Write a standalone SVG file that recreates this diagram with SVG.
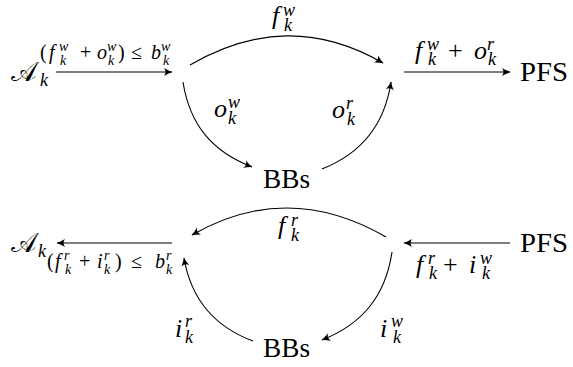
<svg xmlns="http://www.w3.org/2000/svg" width="573" height="367" viewBox="0 0 573 367">
<style>
.node{font-size:27px}
.m{font-size:26px}
.s{font-size:20px}
.i{font-style:italic}
.sc{font-size:18px;font-style:italic}
.ss{font-size:14px;font-style:italic}
.edge{fill:none;stroke:#000;stroke-width:1.1;marker-end:url(#arr)}
</style>
<defs>
<marker id="arr" markerUnits="userSpaceOnUse" markerWidth="12" markerHeight="12" viewBox="-10 -6 12 12" refX="0" refY="0" orient="auto">
<path d="M-8,-4 Q-3,-1 0.5,0 Q-3,1 -8,4 Q-5,0 -8,-4 Z" fill="#000"/>
</marker>
</defs>
<rect width="573" height="367" fill="#fff"/>

<g id="A1"><text font-family="Liberation Serif" class="node"><tspan x="11" y="81">𝒜</tspan><tspan class="sc" x="40" y="86">k</tspan></text></g>
<g id="PFS1"><text font-family="Liberation Serif" class="node" x="520" y="81" textLength="48" lengthAdjust="spacingAndGlyphs">PFS</text></g>
<g id="BBs1"><text font-family="Liberation Serif" class="node" x="263" y="188" textLength="47" lengthAdjust="spacingAndGlyphs">BBs</text></g>
<g id="A2"><text font-family="Liberation Serif" class="node"><tspan x="11" y="252">𝒜</tspan><tspan class="sc" x="38" y="257">k</tspan></text></g>
<g id="PFS2"><text font-family="Liberation Serif" class="node" x="520" y="252" textLength="48" lengthAdjust="spacingAndGlyphs">PFS</text></g>
<g id="BBs2"><text font-family="Liberation Serif" class="node" x="263" y="357" textLength="47" lengthAdjust="spacingAndGlyphs">BBs</text></g>

<g id="connectors">
<path class="edge" d="M56 72 H172"/>
<path class="edge" d="M190 65 C255 27.5 318 25.5 383 63"/>
<path class="edge" d="M183 82 C189.7 124.5 211.9 151.6 252 167"/>
<path class="edge" d="M322 169 C362 153.2 384.7 124.5 391 82"/>
<path class="edge" d="M404 72 H510"/>
<path class="edge" d="M172 243 H57"/>
<path class="edge" d="M386 237 C321 199.5 257 197.5 192 235"/>
<path class="edge" d="M392 252 C385.5 295.5 362.9 323.9 322 340"/>
<path class="edge" d="M253 341 C213.6 326.4 191.1 299.4 184 258"/>
<path class="edge" d="M510 243 H404"/>
</g>

<g id="labels">
<text font-family="Liberation Serif" class="s"><tspan x="40" y="59">(</tspan><tspan class="i" x="49" y="59">f</tspan><tspan class="ss" x="59" y="51">w</tspan><tspan class="ss" x="60" y="65">k</tspan><tspan x="80" y="59">+</tspan><tspan class="i" x="97" y="59">o</tspan><tspan class="ss" x="107" y="51">w</tspan><tspan class="ss" x="108" y="65">k</tspan><tspan x="118" y="59">)</tspan><tspan x="131" y="59">≤</tspan><tspan class="i" x="151" y="59">b</tspan><tspan class="ss" x="161" y="51">w</tspan><tspan class="ss" x="163" y="65">k</tspan></text>

<text font-family="Liberation Serif" class="m"><tspan class="i" x="272" y="24">f</tspan><tspan class="sc" x="283" y="16">w</tspan><tspan class="sc" x="284" y="31">k</tspan></text>

<text font-family="Liberation Serif" class="m"><tspan class="i" x="415" y="59">f</tspan><tspan class="sc" x="427" y="50">w</tspan><tspan class="sc" x="428" y="65">k</tspan><tspan x="448" y="59">+</tspan><tspan class="i" x="474" y="59">o</tspan><tspan class="sc" x="487" y="50">r</tspan><tspan class="sc" x="488" y="65">k</tspan></text>

<text font-family="Liberation Serif" class="m"><tspan class="i" x="214" y="117">o</tspan><tspan class="sc" x="228" y="108">w</tspan><tspan class="sc" x="228" y="124">k</tspan></text>
<text font-family="Liberation Serif" class="m"><tspan class="i" x="332" y="118">o</tspan><tspan class="sc" x="346" y="109">r</tspan><tspan class="sc" x="347" y="125">k</tspan></text>

<text font-family="Liberation Serif" class="s"><tspan x="47" y="268">(</tspan><tspan class="i" x="55" y="268">f</tspan><tspan class="ss" x="64" y="260">r</tspan><tspan class="ss" x="65" y="274">k</tspan><tspan x="79" y="268">+</tspan><tspan class="i" x="97" y="268">i</tspan><tspan class="ss" x="104" y="260">r</tspan><tspan class="ss" x="104" y="274">k</tspan><tspan x="115" y="268">)</tspan><tspan x="131" y="268">≤</tspan><tspan class="i" x="155" y="268">b</tspan><tspan class="ss" x="166" y="260">r</tspan><tspan class="ss" x="166" y="274">k</tspan></text>

<text font-family="Liberation Serif" class="m"><tspan class="i" x="278" y="234">f</tspan><tspan class="sc" x="291" y="226">r</tspan><tspan class="sc" x="291" y="241">k</tspan></text>

<text font-family="Liberation Serif" class="m"><tspan class="i" x="416" y="273">f</tspan><tspan class="sc" x="428" y="264">r</tspan><tspan class="sc" x="429" y="279">k</tspan><tspan x="443" y="273">+</tspan><tspan class="i" x="469" y="273">i</tspan><tspan class="sc" x="480" y="264">w</tspan><tspan class="sc" x="482" y="279">k</tspan></text>

<text font-family="Liberation Serif" class="m"><tspan class="i" x="175" y="337">i</tspan><tspan class="sc" x="185" y="327">r</tspan><tspan class="sc" x="185" y="343">k</tspan></text>
<text font-family="Liberation Serif" class="m"><tspan class="i" x="380" y="337">i</tspan><tspan class="sc" x="391" y="327">w</tspan><tspan class="sc" x="393" y="343">k</tspan></text>
</g>
</svg>
